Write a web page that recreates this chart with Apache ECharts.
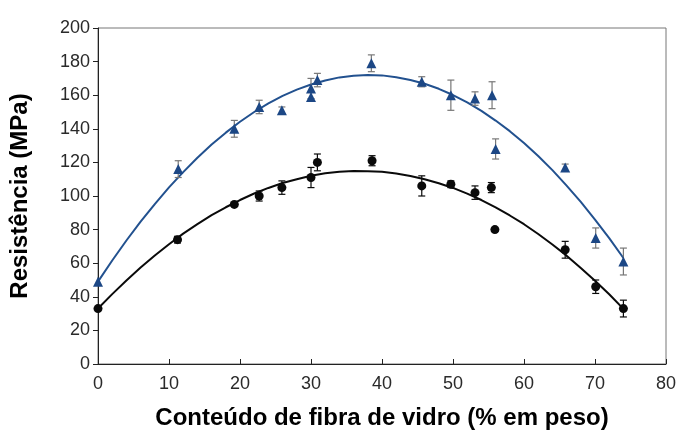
<!DOCTYPE html>
<html>
<head>
<meta charset="utf-8">
<script src="https://cdn.jsdelivr.net/npm/echarts@6/dist/echarts.min.js"></script>
<style>
html,body{margin:0;padding:0;background:#fff;}
#chart{width:681px;height:435px;}
</style>
</head>
<body>
<div id="chart"></div>
<script>
// Glass-fibre content (wt %) and measured strength (MPa) with error half-widths
var blueX   = [0, 11.3, 19.2, 22.7, 25.9, 30.0, 30.0, 30.9, 38.5, 45.6, 49.7, 53.1, 55.5, 56.0, 65.8, 70.1, 74.0];
var blueY   = [49, 116, 140, 153, 151, 159, 164, 169, 179, 168, 160, 158, 160, 128, 117, 75, 61];
var blueErr = [0, 5, 5, 4, 2, 0, 6, 4, 5, 3, 9, 4, 8, 6, 2, 6, 8];

var blackX   = [0, 11.2, 19.2, 22.7, 25.9, 30.0, 30.9, 38.6, 45.6, 49.7, 53.1, 55.4, 55.9, 65.8, 70.1, 74.0];
var blackY   = [33, 74, 95, 100, 105, 111, 120, 121, 106, 107, 102, 105, 80, 68, 46, 33];
var blackErr = [0, 2, 1, 3, 4, 6, 5, 3, 6, 2, 4, 3, 1, 5, 4, 5];

// Fitted trend curves
var curveX     = [0, 2, 4, 6, 8, 10, 12, 14, 16, 18, 20, 22, 24, 26, 28, 30, 32, 34, 36, 38,
                  40, 42, 44, 46, 48, 50, 52, 54, 56, 58, 60, 62, 64, 66, 68, 70, 72, 74];
var blueCurve  = [49.0, 61.6, 73.5, 84.7, 95.2, 105.1, 114.2, 122.8, 130.6, 137.7, 144.2, 150.0, 155.1, 159.6, 163.3, 166.4, 168.8, 170.6, 171.6, 172.0,
                  171.8, 170.7, 169.1, 166.8, 163.8, 160.1, 155.7, 150.7, 144.9, 138.6, 131.5, 123.8, 115.4, 106.2, 96.5, 86.0, 74.9, 63.1];
var blackCurve = [33.0, 41.6, 49.7, 57.4, 64.6, 71.3, 77.6, 83.3, 88.6, 93.3, 97.6, 101.5, 104.8, 107.7, 110.0, 112.0, 113.5, 114.4, 114.9, 114.8,
                  114.4, 113.4, 111.9, 110.0, 107.6, 104.8, 101.4, 97.6, 93.2, 88.4, 83.2, 77.4, 71.1, 64.5, 57.2, 49.6, 41.5, 32.8];

// Axis ticks
var xTicks = [0, 10, 20, 30, 40, 50, 60, 70, 80];
var yTicks = [0, 20, 40, 60, 80, 100, 120, 140, 160, 180, 200];

var BLUE = '#1c4785';
var BLACK = '#0a0a0a';

function pairs(xs, ys) { return xs.map(function (x, i) { return [x, ys[i]]; }); }
function errData(xs, ys, es) {
  var out = [];
  xs.forEach(function (x, i) { if (es[i] > 0) out.push([x, ys[i] - es[i], ys[i] + es[i]]); });
  return out;
}
function errSeries(data, color) {
  return {
    type: 'custom',
    data: data,
    z: 3,
    silent: true,
    renderItem: function (params, api) {
      var x = api.value(0);
      var lo = api.coord([x, api.value(1)]);
      var hi = api.coord([x, api.value(2)]);
      var w = 3.5;
      var st = { stroke: color, lineWidth: 1.2 };
      return {
        type: 'group',
        children: [
          { type: 'line', shape: { x1: lo[0], y1: lo[1], x2: hi[0], y2: hi[1] }, style: st },
          { type: 'line', shape: { x1: lo[0] - w, y1: lo[1], x2: lo[0] + w, y2: lo[1] }, style: st },
          { type: 'line', shape: { x1: hi[0] - w, y1: hi[1], x2: hi[0] + w, y2: hi[1] }, style: st }
        ]
      };
    }
  };
}

var chart = echarts.init(document.getElementById('chart'), null, { renderer: 'canvas' });
var font = 'Liberation Sans, Arial, sans-serif';

chart.setOption({
  animation: false,
  backgroundColor: '#ffffff',
  grid: { left: 95, right: 15, top: 28, bottom: 68, show: true, borderColor: '#777', borderWidth: 1 },
  xAxis: {
    type: 'value', min: 0, max: 80, interval: 10,
    name: 'Conteúdo de fibra de vidro (% em peso)',
    nameLocation: 'middle', nameGap: 42,
    nameTextStyle: { fontFamily: font, fontSize: 24, fontWeight: 'bold', color: '#000' },
    axisLine: { lineStyle: { color: '#222', width: 1 } },
    axisTick: { inside: true, length: 5, lineStyle: { color: '#222' } },
    axisLabel: { fontFamily: font, fontSize: 18, color: '#2a2a2a', margin: 11,
      formatter: function (v) { return xTicks.indexOf(v) >= 0 ? String(v) : ''; } },
    splitLine: { show: false }
  },
  yAxis: {
    type: 'value', min: 0, max: 200, interval: 20,
    name: 'Resistência (MPa)',
    nameLocation: 'middle', nameGap: 66,
    nameTextStyle: { fontFamily: font, fontSize: 24, fontWeight: 'bold', color: '#000' },
    axisLine: { lineStyle: { color: '#222', width: 1 } },
    axisTick: { inside: false, length: 5, lineStyle: { color: '#222' } },
    axisLabel: { fontFamily: font, fontSize: 18, color: '#2a2a2a', margin: 8,
      formatter: function (v) { return yTicks.indexOf(v) >= 0 ? String(v) : ''; } },
    splitLine: { show: false }
  },
  series: [
    { type: 'line', data: pairs(curveX, blueCurve), smooth: false, showSymbol: false,
      lineStyle: { color: '#22518f', width: 2 }, z: 2, silent: true },
    { type: 'line', data: pairs(curveX, blackCurve), smooth: false, showSymbol: false,
      lineStyle: { color: BLACK, width: 2 }, z: 2, silent: true },
    errSeries(errData(blueX, blueY, blueErr), '#777777'),
    errSeries(errData(blackX, blackY, blackErr), BLACK),
    { type: 'scatter', data: pairs(blueX, blueY), symbol: 'triangle', symbolSize: 10,
      itemStyle: { color: BLUE, opacity: 1 }, z: 4 },
    { type: 'scatter', data: pairs(blackX, blackY), symbol: 'circle', symbolSize: 9,
      itemStyle: { color: BLACK, opacity: 1 }, z: 4 }
  ]
});
</script>
</body>
</html>
